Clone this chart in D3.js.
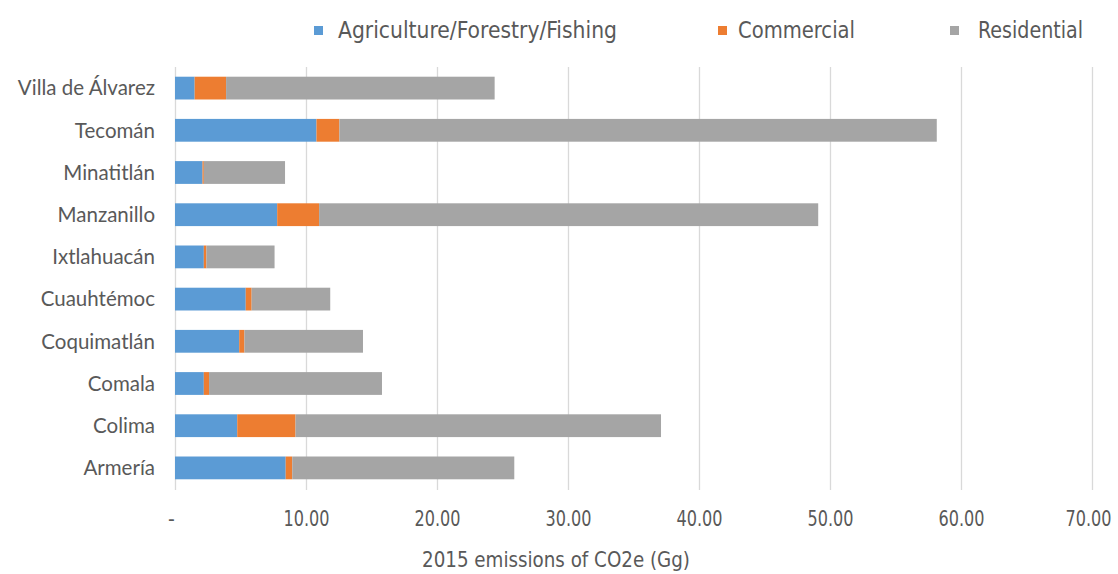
<!DOCTYPE html>
<html>
<head>
<meta charset="utf-8">
<script src="https://cdn.jsdelivr.net/npm/d3@7"></script>
<style>
  html, body { margin: 0; padding: 0; background: #fff; }
  svg { display: block; }
  .narrow { font-family: "Liberation Sans Narrow", "DejaVu Sans Condensed", "Roboto", sans-serif; }
</style>
</head>
<body>
<svg id="chart" width="1118" height="574"></svg>
<script>
// Municipalities of Colima, listed top to bottom
const municipalities = ["Villa de Álvarez", "Tecomán", "Minatitlán", "Manzanillo", "Ixtlahuacán",
  "Cuauhtémoc", "Coquimatlán", "Comala", "Colima", "Armería"];

// 2015 emissions by sector, Gg CO2e
const agriculture = [1.5, 10.8, 2.1, 7.8, 2.2, 5.4, 4.9, 2.2, 4.75, 8.45];
const commercial  = [2.4, 1.75, 0.1, 3.2, 0.2, 0.45, 0.4, 0.4, 4.45, 0.5];
const residential = [20.5, 45.6, 6.2, 38.1, 5.2, 6.0, 9.05, 13.2, 27.9, 16.95];

const seriesNames = ["Agriculture/Forestry/Fishing", "Commercial", "Residential"];
const seriesColors = ["#5b9bd5", "#ed7d31", "#a5a5a5"];
const tickValues = [0, 10, 20, 30, 40, 50, 60, 70];
const axisTitle = "2015 emissions  of CO2e (Gg)";

const svg = d3.select("#chart");
const margin = { left: 175, top: 67 };

const x = d3.scaleLinear().domain([0, 70]).range([margin.left, margin.left + 70 * 13.1]);
const y = d3.scaleBand().domain(municipalities).range([margin.top, 489]).paddingInner(0.46).paddingOuter(0.23);

// Gridlines
svg.append("g")
  .selectAll("line")
  .data(tickValues)
  .join("line")
  .attr("x1", d => Math.round(x(d)) + 0.5)
  .attr("x2", d => Math.round(x(d)) + 0.5)
  .attr("y1", margin.top)
  .attr("y2", 490)
  .attr("stroke", "#d9d9d9")
  .attr("stroke-width", 1.3);

// Stacked bars
const rows = municipalities.map((m, i) => ({
  name: m, agriculture: agriculture[i], commercial: commercial[i], residential: residential[i]
}));
const stack = d3.stack().keys(["agriculture", "commercial", "residential"]);
const layers = stack(rows);

svg.append("g")
  .selectAll("g")
  .data(layers)
  .join("g")
  .attr("fill", (d, i) => seriesColors[i])
  .selectAll("rect")
  .data(d => d)
  .join("rect")
  .attr("x", d => x(d[0]))
  .attr("width", d => x(d[1]) - x(d[0]))
  .attr("y", d => y(d.data.name))
  .attr("height", y.bandwidth());

// Category axis labels
svg.append("g")
  .selectAll("text")
  .data(municipalities)
  .join("text")
  .attr("x", 155)
  .attr("y", d => y(d) + y.bandwidth() / 2)
  .attr("dy", "0.36em")
  .attr("text-anchor", "end")
  .attr("font-family", "Lato, 'Open Sans', sans-serif")
  .attr("font-size", 20.5)
  .attr("fill", "#595959")
  .text(d => d);

// Value axis
const xAxis = d3.axisBottom(x)
  .tickValues(tickValues)
  .tickSize(0)
  .tickPadding(0)
  .tickFormat(d => d === 0 ? "-" : d3.format(".2f")(d));

const axisG = svg.append("g")
  .attr("transform", "translate(0, 508)")
  .call(xAxis);
axisG.select(".domain").remove();
axisG.selectAll("text")
  .attr("class", "narrow")
  .attr("font-size", 21)
  .attr("fill", "#595959")
  .attr("dy", "0.85em");
axisG.selectAll(".tick text").filter(d => d !== 0)
  .attr("textLength", 46)
  .attr("lengthAdjust", "spacingAndGlyphs");
axisG.selectAll(".tick text").filter(d => d === 70).attr("dx", -4);
axisG.selectAll(".tick text").filter(d => d === 0).attr("dx", -4);

// Axis title
svg.append("text")
  .attr("class", "narrow")
  .attr("x", 422)
  .attr("y", 567)
  .attr("font-size", 22)
  .attr("fill", "#595959")
  .attr("textLength", 268)
  .attr("lengthAdjust", "spacingAndGlyphs")
  .text(axisTitle);

// Legend
const legendSquareX = [314, 718, 950];
const legendTextX = [338, 738, 978];
const legendTextW = [279, 117, 105];
const legend = svg.append("g");
seriesNames.forEach((name, i) => {
  legend.append("rect")
    .attr("x", legendSquareX[i])
    .attr("y", 26)
    .attr("width", 9)
    .attr("height", 9)
    .attr("fill", seriesColors[i]);
  legend.append("text")
    .attr("class", "narrow")
    .attr("x", legendTextX[i])
    .attr("y", 30)
    .attr("dy", "0.36em")
    .attr("font-size", 23)
    .attr("fill", "#595959")
    .attr("textLength", legendTextW[i])
    .attr("lengthAdjust", "spacingAndGlyphs")
    .text(name);
});
</script>
</body>
</html>
